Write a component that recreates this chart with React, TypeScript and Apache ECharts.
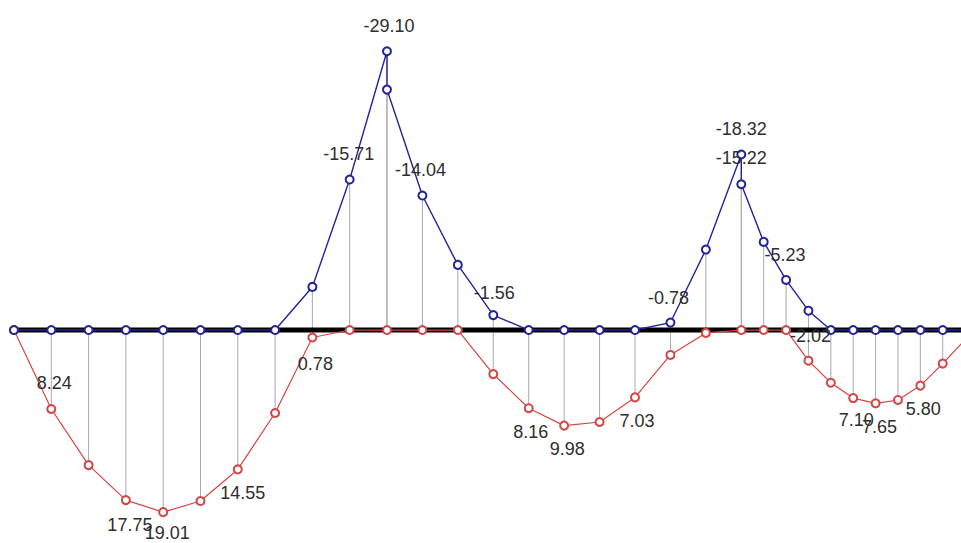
import React, { useEffect, useRef } from "react";
import * as echarts from "echarts";

// Station positions along the beam (three spans)
const stations = [
  0, 1, 2, 3, 4, 5, 6, 7, 8, 9, 10,
  10.95, 11.9, 12.85, 13.8, 14.75, 15.7, 16.65, 17.6, 18.55, 19.5,
  20.1, 20.7, 21.3, 21.9, 22.5, 23.1, 23.7, 24.3, 24.9, 25.5,
];

// Max (positive) moment envelope – red
const maxMoment = [
  0, 8.24, 14.1, 17.75, 19.01, 17.85, 14.55, 8.66, 0.78, 0, 0,
  0, 0, 4.6, 8.16, 9.98, 9.6, 7.03, 2.6, 0.3, 0,
  0, 0, 3.2, 5.5, 7.1, 7.65, 7.3, 5.8, 3.5, 1.0,
];

// Min (negative) moment envelope – blue (supports have left/right values)
const minX = [
  0, 1, 2, 3, 4, 5, 6, 7, 8, 9, 10, 10,
  10.95, 11.9, 12.85, 13.8, 14.75, 15.7, 16.65, 17.6, 18.55, 19.5, 19.5,
  20.1, 20.7, 21.3, 21.9, 22.5, 23.1, 23.7, 24.3, 24.9, 25.5,
];
const minMoment = [
  0, 0, 0, 0, 0, 0, 0, 0, -4.5, -15.71, -29.1, -25.1,
  -14.04, -6.8, -1.56, 0, 0, 0, 0, -0.78, -8.4, -18.32, -15.22,
  -9.2, -5.23, -2.02, 0, 0, 0, 0, 0, 0, 0,
];

// Which points carry a value label, and where the label sits (px offset)
const redLabelOffsets: Record<number, [number, number]> = {
  1: [3, -26], 3: [4, 25], 4: [4, 21], 6: [5, 24], 8: [3, 26],
  14: [2, 24], 15: [3, 23], 17: [2, 24], 25: [3, 22], 26: [4, 24], 28: [3, 23],
};
const blueLabelOffsets: Record<number, [number, number]> = {
  9: [-1, -26], 10: [2, -25], 12: [-2, -26], 14: [1, -22], 19: [-2, -25],
  21: [0, -26], 22: [0, -26], 24: [-1, -25], 25: [2, 25],
};

const RED = "#d44545";
const BLUE = "#23239a";
const FONT = "Liberation Sans, Arial, sans-serif";

function buildData(xs: number[], ys: number[], offsets: Record<number, [number, number]>) {
  return xs.map((x, i) => {
    const item: any = { value: [x, ys[i]] };
    if (offsets[i]) {
      item.label = {
        show: true,
        position: "inside",
        offset: offsets[i],
        formatter: (p: any) => Number(p.value[1]).toFixed(2),
        color: "#2e2e2e",
        fontSize: 18,
        fontFamily: FONT,
        align: "center",
        verticalAlign: "middle",
      };
    }
    return item;
  });
}

export default function App() {
  const ref = useRef<HTMLDivElement>(null);
  useEffect(() => {
    if (!ref.current) return;
    const chart = echarts.init(ref.current, undefined, { renderer: "svg" });
    const drops: number[][] = [];
    stations.forEach((x, i) => {
      if (maxMoment[i] !== 0) drops.push([x, maxMoment[i]]);
    });
    minX.forEach((x, i) => {
      if (minMoment[i] !== 0) drops.push([x, minMoment[i]]);
    });
    chart.setOption({
      animation: false,
      backgroundColor: "#ffffff",
      grid: { left: 0, right: 0, top: 0, bottom: 0 },
      xAxis: { type: "value", min: -0.375, max: 25.39, show: false },
      yAxis: { type: "value", inverse: true, min: -34.45, max: 22.23, show: false },
      series: [
        {
          type: "custom",
          z: 1,
          data: drops,
          encode: { x: 0, y: 1 },
          renderItem: (params: any, api: any) => {
            const x = api.value(0);
            const v = api.value(1);
            const p0 = api.coord([x, 0]);
            const p1 = api.coord([x, v]);
            return {
              type: "line",
              shape: { x1: p0[0], y1: p0[1], x2: p1[0], y2: p1[1] },
              style: { stroke: "#a9a9a9", lineWidth: 1 },
            };
          },
        },
        {
          type: "line",
          z: 2,
          data: [[0, 0], [25.5, 0]],
          symbol: "none",
          lineStyle: { color: "#000", width: 5 },
          silent: true,
        },
        {
          type: "line",
          z: 3,
          data: buildData(stations, maxMoment, redLabelOffsets),
          symbol: "emptyCircle",
          symbolSize: 8,
          itemStyle: { color: RED, borderColor: RED, borderWidth: 1.2 },
          lineStyle: { color: RED, width: 1.2 },
          label: { show: false },
        },
        {
          type: "line",
          z: 4,
          data: buildData(minX, minMoment, blueLabelOffsets),
          symbol: "emptyCircle",
          symbolSize: 8,
          itemStyle: { color: BLUE, borderColor: BLUE, borderWidth: 1.2 },
          lineStyle: { color: BLUE, width: 1.4 },
          label: { show: false },
        },
      ],
    });
    return () => chart.dispose();
  }, []);
  return (
    <div
      ref={ref}
      style={{ position: "fixed", left: 0, top: 0, width: 961, height: 543, background: "#fff" }}
    />
  );
}
